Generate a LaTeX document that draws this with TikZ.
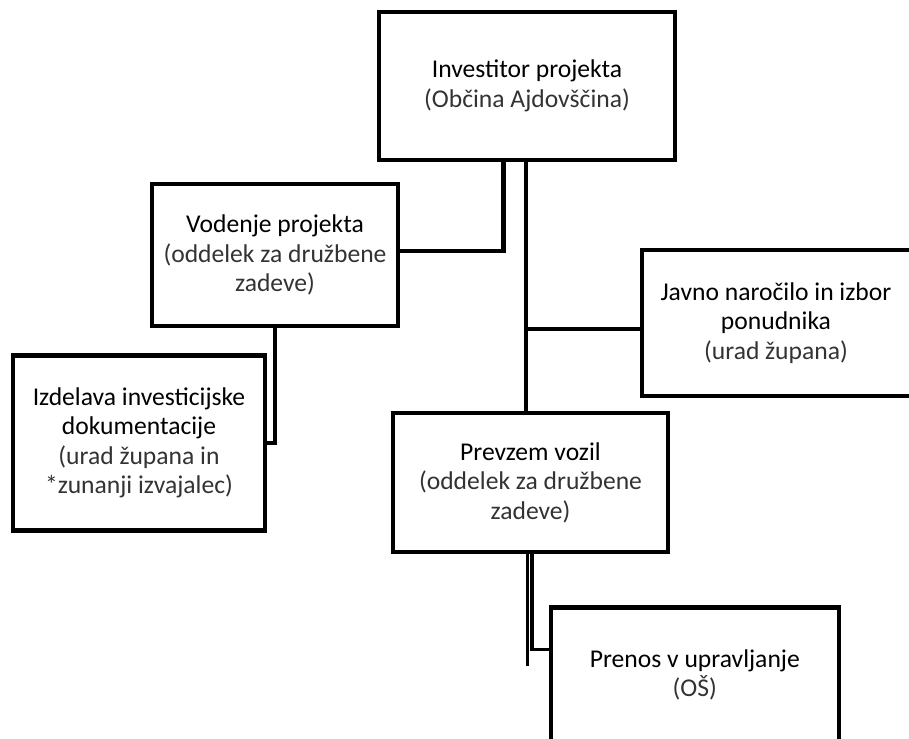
\documentclass[tikz,border=0pt]{standalone}
\usepackage{fontspec}
\setmainfont{Carlito}
\newcommand\lightline{\color{black!80}}
\begin{document}
\begin{tikzpicture}[x=1pt,y=-1pt,
  box/.style={draw=black, line width=4.3pt, fill=white, align=center, inner sep=0pt,
    font=\fontsize{25.6}{29.5}\selectfont},
  openbox/.style={box, draw=none},
  boxline/.style={draw=black, line width=4.3pt},
  conn/.style={draw=black, line width=4.2pt},
  thinconn/.style={draw=black, line width=3.8pt}]
\useasboundingbox (0,0) rectangle (909,738);
\clip (0,0) rectangle (909,738);
\node[box, minimum width=296.5pt, minimum height=148.5pt] (inv) at (527,86)
  {Investitor projekta\\\lightline(Občina Ajdovščina)};
\node[box, minimum width=246pt, minimum height=142pt] (vod) at (275,255)
  {Vodenje projekta\\\lightline(oddelek za družbene\\\lightline zadeve)};
\node[box, minimum width=252.5pt, minimum height=175pt] (izd) at (139,443)
  {Izdelava investicijske\\dokumentacije\\\lightline(urad župana in\\\lightline *zunanji izvajalec)};
\node[openbox, minimum width=264pt, minimum height=142pt] (jav) at (776,323)
  {Javno naročilo in izbor\\ponudnika\\\lightline(urad župana)};
\draw[boxline] ([xshift=10pt]jav.north east) -- (jav.north west) -- (jav.south west) -- ([xshift=10pt]jav.south east);
\node[box, minimum width=275pt, minimum height=139pt] (prev) at (530.5,482.5)
  {Prevzem vozil\\\lightline(oddelek za družbene\\\lightline zadeve)};
\node[box, minimum width=288.3pt, minimum height=134.5pt] (pren) at (694.85,674.75)
  {Prenos v upravljanje\\\lightline(OŠ)};
\coordinate (freeend) at (527.5,666);
\draw[conn] ([xshift=-23.5pt]inv.south) |- ([yshift=4pt]vod.east);
\draw[conn] ([xshift=-1pt]inv.south) -- ([xshift=-1pt]inv.south |- prev.north);
\draw[conn] ([yshift=-6pt]jav.west) -- ([yshift=-6pt,xshift=-1pt]jav.west -| inv.south);
\draw[conn] (vod.south) |- (izd.east);
\draw[thinconn] ([xshift=-3pt]prev.south) -- (freeend);
\draw[thinconn] ([xshift=1.2pt]prev.south) |- ([yshift=25.25pt]pren.west);
\end{tikzpicture}
\end{document}
